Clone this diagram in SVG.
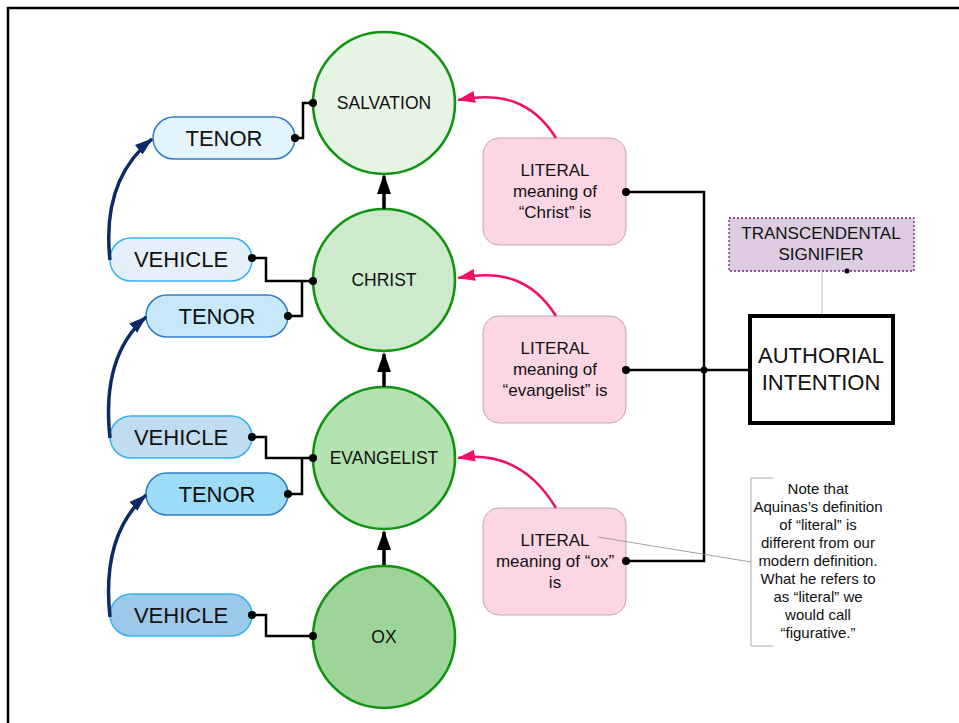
<svg xmlns="http://www.w3.org/2000/svg" width="959" height="723" viewBox="0 0 959 723">
<defs>
<style>
.t{font-family:"Liberation Sans",Arial,sans-serif;fill:#111;text-anchor:middle}
.circ{stroke:#129412;stroke-width:2.6}
.tenor{stroke:#2f7cc4;stroke-width:1.5}
.veh{stroke:#35b2ea;stroke-width:1.5}
.lit{fill:#fdd6e5;stroke:#c8a2b4;stroke-width:1}
.wire{fill:none;stroke:#000;stroke-width:2.5}
.up{fill:none;stroke:#000;stroke-width:3.5;marker-end:url(#ab)}
.blue{fill:none;stroke:#0b2a66;stroke-width:3.5;marker-end:url(#an)}
.pink{fill:none;stroke:#ee1166;stroke-width:2.5;marker-end:url(#ap)}
</style>
<marker id="ab" markerUnits="userSpaceOnUse" markerWidth="20" markerHeight="20" viewBox="0 0 20 16" refX="18" refY="8" orient="auto"><path d="M0,1 L20,8 L0,15 z" fill="#000"/></marker>
<marker id="an" markerUnits="userSpaceOnUse" markerWidth="18" markerHeight="14" viewBox="0 0 18 12" refX="17" refY="6" orient="auto"><path d="M0,0 L18,6 L0,12 z" fill="#0b2a66"/></marker>
<marker id="ap" markerUnits="userSpaceOnUse" markerWidth="18" markerHeight="14" viewBox="0 0 18 12" refX="17" refY="6" orient="auto"><path d="M0,0 L18,6 L0,12 z" fill="#ee1166"/></marker>
</defs>
<rect x="0" y="0" width="959" height="723" fill="#fff"/>
<rect x="8" y="8" width="1000" height="1000" fill="none" stroke="#000" stroke-width="2.5"/>

<g id="salvation"><circle class="circ" cx="384" cy="103" r="71" fill="#e6f5e3"/><text class="t" x="384" y="109" font-size="17.5">SALVATION</text></g>
<g id="christ"><circle class="circ" cx="384" cy="280" r="71" fill="#cdebcc"/><text class="t" x="384" y="286" font-size="17.5">CHRIST</text></g>
<g id="evangelist"><circle class="circ" cx="384" cy="458" r="71" fill="#b4e1b0"/><text class="t" x="384" y="464" font-size="17.5">EVANGELIST</text></g>
<g id="ox"><circle class="circ" cx="384" cy="637" r="71" fill="#9cd597"/><text class="t" x="384" y="643" font-size="17.5">OX</text></g>

<g id="tenor1"><rect class="tenor" x="153" y="117" width="142" height="42" rx="21" fill="#e3f4fc"/><text class="t" x="224" y="146" font-size="22">TENOR</text></g>
<g id="vehicle1"><rect class="veh" x="110" y="238" width="142" height="43" rx="21" fill="#e6f0fa"/><text class="t" x="181" y="267" font-size="22">VEHICLE</text></g>
<g id="tenor2"><rect class="tenor" x="146" y="295" width="142" height="42" rx="21" fill="#c6e8f8"/><text class="t" x="217" y="324" font-size="22">TENOR</text></g>
<g id="vehicle2"><rect class="veh" x="110" y="416" width="142" height="42" rx="21" fill="#c0dcf0"/><text class="t" x="181" y="445" font-size="22">VEHICLE</text></g>
<g id="tenor3"><rect class="tenor" x="146" y="473" width="142" height="42" rx="21" fill="#9ddcf6"/><text class="t" x="217" y="502" font-size="22">TENOR</text></g>
<g id="vehicle3"><rect class="veh" x="110" y="594" width="142" height="42" rx="21" fill="#9cc8e9"/><text class="t" x="181" y="623" font-size="22">VEHICLE</text></g>

<g id="literal-christ"><rect class="lit" x="483" y="138" width="143" height="107" rx="16"/>
<text class="t" font-size="17"><tspan x="555" y="176">LITERAL</tspan><tspan x="555" y="197">meaning of</tspan><tspan x="555" y="218">“Christ” is</tspan></text></g>
<g id="literal-evangelist"><rect class="lit" x="483" y="316" width="143" height="107" rx="16"/>
<text class="t" font-size="17"><tspan x="555" y="354">LITERAL</tspan><tspan x="555" y="375">meaning of</tspan><tspan x="555" y="396">“evangelist” is</tspan></text></g>
<g id="literal-ox"><rect class="lit" x="483" y="508" width="143" height="107" rx="16"/>
<text class="t" font-size="17"><tspan x="555" y="546">LITERAL</tspan><tspan x="555" y="567">meaning of “ox”</tspan><tspan x="555" y="588">is</tspan></text></g>

<g id="transcendental"><rect x="729" y="218" width="185" height="53" fill="#dccbe1" stroke="#7a1a7a" stroke-width="1.3" stroke-dasharray="2,2"/>
<text class="t" font-size="17"><tspan x="821" y="239">TRANSCENDENTAL</tspan><tspan x="821" y="260">SIGNIFIER</tspan></text></g>

<g id="authorial"><rect x="750" y="316" width="143" height="107" fill="#fff" stroke="#000" stroke-width="4"/>
<text class="t" font-size="22"><tspan x="821" y="363">AUTHORIAL</tspan><tspan x="821" y="390">INTENTION</tspan></text></g>

<g id="note"><path d="M773,478 H751 V646 H773" fill="none" stroke="#aaa" stroke-width="1"/>
<text class="t" font-size="15"><tspan x="818" y="494">Note that</tspan><tspan x="818" y="512">Aquinas’s definition</tspan><tspan x="818" y="530">of “literal” is</tspan><tspan x="818" y="548">different from our</tspan><tspan x="818" y="566">modern definition.</tspan><tspan x="818" y="584">What he refers to</tspan><tspan x="818" y="602">as “literal” we</tspan><tspan x="818" y="620">would call</tspan><tspan x="818" y="638">“figurative.”</tspan></text></g>

<g id="connectors">
<path class="up" d="M384,209 L384,176"/>
<path class="up" d="M384,387 L384,354"/>
<path class="up" d="M384,565 L384,532"/>
<path class="wire" d="M295,138 H303 V103 H313"/>
<path class="wire" d="M252,258 H266 V281 H313"/>
<path class="wire" d="M288,316 H302 V281"/>
<path class="wire" d="M252,437 H266 V458 H313"/>
<path class="wire" d="M288,494 H302 V458"/>
<path class="wire" d="M252,615 H266 V636 H313"/>
<path class="blue" d="M110,260 C104,205 120,165 152,139"/>
<path class="blue" d="M110,438 C104,383 116,343 146,317"/>
<path class="blue" d="M110,617 C104,562 116,522 146,495"/>
<path class="pink" d="M556,138 C532,100 500,92 458,100"/>
<path class="pink" d="M556,316 C532,278 500,270 458,278"/>
<path class="pink" d="M556,508 C532,468 500,452 458,458"/>
<path class="wire" d="M626,192 H704 V561 H626"/>
<path class="wire" d="M626,370 H750"/>
<path d="M822,272 V316" stroke="#bbb" stroke-width="1" fill="none"/>
<path d="M751,562 L598,537" stroke="#888" stroke-width="0.8" fill="none"/>
<g fill="#000">
<circle cx="295" cy="138" r="4"/><circle cx="313" cy="103" r="4"/>
<circle cx="252" cy="258" r="4"/><circle cx="313" cy="281" r="4"/><circle cx="288" cy="316" r="4"/>
<circle cx="252" cy="437" r="4"/><circle cx="313" cy="458" r="4"/><circle cx="288" cy="494" r="4"/>
<circle cx="252" cy="615" r="4"/><circle cx="313" cy="636" r="4"/>
<circle cx="626" cy="192" r="4"/><circle cx="626" cy="370" r="4"/><circle cx="626" cy="561" r="4"/>
<circle cx="704" cy="370" r="3.5"/>
<circle cx="847" cy="271" r="2.5"/><circle cx="822" cy="316" r="2"/>
</g>
</g>
</svg>
